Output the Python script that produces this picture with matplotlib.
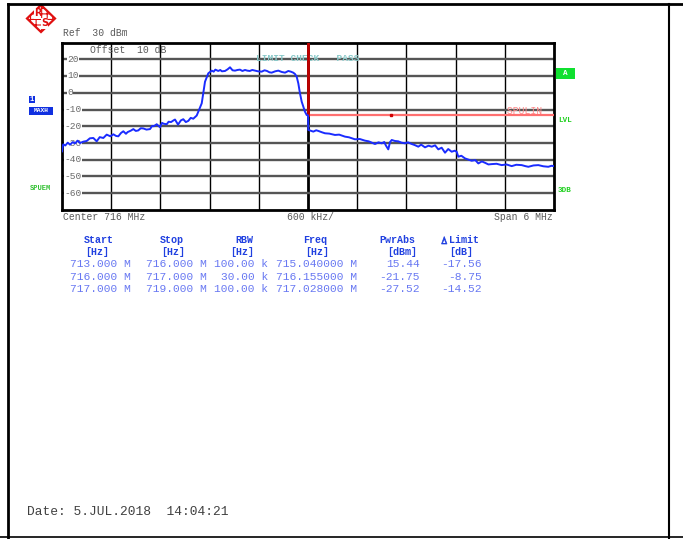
import matplotlib
matplotlib.use("Agg")
import matplotlib.pyplot as plt
from matplotlib.patches import Polygon, Rectangle

# ---------------- data ----------------
freq_mhz = [713.000, 713.010, 713.016, 713.040, 713.070, 713.098, 713.130, 713.160, 713.190,
            713.220, 713.260, 713.301, 713.340, 713.382, 713.423, 713.460, 713.504, 713.545,
            713.590, 713.626, 713.660, 713.687, 713.720, 713.748, 713.780, 713.800, 713.840,
            713.870, 713.900, 713.930, 713.960, 713.991, 714.030, 714.073, 714.100, 714.120,
            714.155, 714.195, 714.220, 714.240, 714.277, 714.300, 714.330, 714.360, 714.378,
            714.415, 714.450, 714.479, 714.510, 714.540, 714.570, 714.601, 714.643, 714.662,
            714.683, 714.704, 714.723, 714.744, 714.784, 714.826, 714.850, 714.870, 714.906,
            714.930, 714.950, 714.988, 715.020, 715.049, 715.080, 715.110, 715.140, 715.170,
            715.200, 715.232, 715.260, 715.290, 715.320, 715.354, 715.390, 715.435, 715.470,
            715.500, 715.530, 715.557, 715.600, 715.638, 715.680, 715.720, 715.760, 715.790,
            715.820, 715.841, 715.862, 715.882, 715.902, 715.923, 715.943, 715.963, 715.984,
            716.000, 716.004, 716.030, 716.065, 716.100, 716.126, 716.170, 716.207, 716.260,
            716.329, 716.380, 716.451, 716.500, 716.573, 716.630, 716.695, 716.740, 716.780,
            716.817, 716.860, 716.899, 716.930, 716.950, 716.979, 717.000, 717.021, 717.060,
            717.101, 717.140, 717.183, 717.220, 717.265, 717.300, 717.345, 717.380, 717.427,
            717.470, 717.509, 717.550, 717.589, 717.630, 717.671, 717.710, 717.752, 717.790,
            717.813, 717.833, 717.870, 717.915, 717.950, 717.996, 718.040, 718.077, 718.120,
            718.158, 718.200, 718.240, 718.300, 718.362, 718.420, 718.484, 718.540, 718.606,
            718.650, 718.687, 718.750, 718.809, 718.870, 718.930, 718.970, 719.000]
level_dbm = [-35.0, -31.5, -30.8, -31.5, -29.8, -31.0, -29.5, -30.2, -28.6,
             -30.0, -29.2, -28.8, -27.2, -27.0, -29.0, -26.5, -27.0, -25.0,
             -26.0, -24.8, -25.8, -26.0, -24.0, -23.0, -24.5, -23.5, -22.6,
             -21.7, -22.8, -22.5, -21.2, -21.3, -22.0, -21.7, -19.8, -20.0,
             -18.8, -20.6, -18.0, -18.5, -18.8, -17.3, -17.5, -16.5, -16.0,
             -19.0, -16.5, -15.8, -17.5, -16.8, -15.0, -15.5, -13.6, -11.3,
             -8.9, -6.3, -0.3, 6.6, 11.6, 13.2, 12.6, 13.8, 13.0,
             13.6, 12.8, 13.0, 14.0, 15.2, 13.4, 13.2, 13.6, 13.8,
             13.0, 13.6, 13.2, 13.0, 13.6, 13.2, 12.8, 12.6, 13.4,
             13.0, 12.2, 12.0, 12.8, 13.2, 12.4, 12.0, 13.0, 12.6,
             12.0, 11.2, 9.6, 5.6, -0.3, -5.3, -8.3, -11.3, -13.3,
             -13.5, -22.2, -22.6, -23.2, -22.4, -22.8, -23.6, -24.2, -24.4,
             -25.2, -25.0, -26.2, -26.6, -27.8, -27.6, -28.6, -29.0, -29.8,
             -30.6, -29.6, -30.2, -29.4, -31.5, -33.8, -29.5, -28.2, -28.8,
             -29.0, -29.8, -30.2, -29.6, -30.6, -31.2, -32.2, -31.0, -32.6,
             -31.6, -32.2, -31.4, -33.8, -32.8, -35.8, -33.6, -35.2, -34.6,
             -35.2, -38.2, -37.6, -39.2, -39.8, -40.6, -40.2, -42.2, -41.0,
             -41.8, -42.8, -42.6, -42.4, -43.2, -42.8, -43.8, -43.0, -43.2,
             -43.8, -44.2, -43.4, -43.2, -43.9, -44.2, -43.6, -43.8]

y_tick_values = [20, 10, 0, -10, -20, -30, -40, -50, -60]
limit_freq = [716.0, 716.0, 719.0]
limit_level = [30.0, -13.0, -13.0]

tbl_start = ["713.000 M", "716.000 M", "717.000 M"]
tbl_stop = ["716.000 M", "717.000 M", "719.000 M"]
tbl_rbw = ["100.00 k", "30.00 k", "100.00 k"]
tbl_freq = ["715.040000 M", "716.155000 M", "717.028000 M"]
tbl_pwr = ["15.44", "-21.75", "-27.52"]
tbl_lim = ["-17.56", "-8.75", "-14.52"]

# ---------------- figure ----------------
W, H = 683, 539
fig = plt.figure(figsize=(W / 100, H / 100), dpi=100)
fig.patch.set_facecolor("white")

ov = fig.add_axes([0, 0, 1, 1])
ov.set_xlim(0, W)
ov.set_ylim(H, 0)
ov.axis("off")

MONO = "Liberation Mono"
GRAY = "#5a5a5a"

# outer frame
ov.plot([8, 8], [4, 539], color="black", lw=2)
ov.plot([8, 683], [4, 4], color="black", lw=2)
ov.plot([669, 669], [4, 539], color="black", lw=1.5)
ov.plot([0, 683], [537, 537], color="black", lw=1.2)

# R&S logo
plt.rcParams["hatch.linewidth"] = 0.8
diamond = Polygon([[41, 5], [55, 18.5], [41, 32], [27, 18.5]], closed=True,
                  facecolor="white", edgecolor="#e01010", lw=1.6, hatch="+++")
ov.add_patch(diamond)
ov.text(37.5, 13.5, "R", color="#e01010", fontsize=7, fontweight="bold",
        ha="center", va="center", family="DejaVu Sans",
        bbox=dict(facecolor="white", edgecolor="none", pad=0.1))
ov.text(44.5, 23.5, "S", color="#e01010", fontsize=7, fontweight="bold",
        ha="center", va="center", family="DejaVu Sans",
        bbox=dict(facecolor="white", edgecolor="none", pad=0.1))

ov.text(63, 33.5, "Ref  30 dBm", fontsize=7, family=MONO, color=GRAY, va="center")

# left / right annotations
ov.add_patch(Rectangle((29, 96), 6, 7, facecolor="#1030e0", edgecolor="none"))
ov.text(32, 99.5, "1", color="white", fontsize=5, ha="center", va="center",
        family=MONO, fontweight="bold")
ov.add_patch(Rectangle((29, 107), 24, 8, facecolor="#1030e0", edgecolor="none"))
ov.text(41, 111, "MAXH", color="white", fontsize=4.5, ha="center", va="center",
        family=MONO, fontweight="bold")
ov.text(30, 188, "SPUEM", color="#30c030", fontsize=5, va="center",
        family=MONO, fontweight="bold")

ov.add_patch(Rectangle((556, 68), 19, 10.5, facecolor="#10e030", edgecolor="none"))
ov.text(565.5, 73.3, "A", color="white", fontsize=5.5, ha="center", va="center",
        family=MONO, fontweight="bold")
ov.text(558, 121, "LVL", color="#20d020", fontsize=5.5, va="center",
        family=MONO, fontweight="bold")
ov.text(558, 190, "3DB", color="#20d020", fontsize=5.5, va="center",
        family=MONO, fontweight="bold")

# bottom scale texts
ov.text(63, 217, "Center 716 MHz", fontsize=7, family=MONO, color=GRAY, va="center")
ov.text(287, 217, "600 kHz/", fontsize=7, family=MONO, color=GRAY, va="center")
ov.text(553, 217, "Span 6 MHz", fontsize=7, family=MONO, color=GRAY, va="center", ha="right")

# table
HDR = "#2040e0"
DAT = "#6878f2"
hdr_kw = dict(fontsize=7.2, family=MONO, color=HDR, fontweight="bold", va="center")
ov.text(84, 240, "Start", **hdr_kw)
ov.text(160, 240, "Stop", **hdr_kw)
ov.text(235, 240, "RBW", **hdr_kw)
ov.text(303, 240, "Freq", **hdr_kw)
ov.text(379, 240, "PwrAbs", **hdr_kw)
ov.text(449, 240, "Limit", **hdr_kw)
ov.add_patch(Polygon([[441.5, 244], [447, 244], [444.25, 236.5]], closed=True,
                     facecolor=HDR, edgecolor=HDR, lw=0.5))
ov.add_patch(Polygon([[443.0, 243], [445.5, 243], [444.25, 240]], closed=True,
                     facecolor="white", edgecolor="none"))
ov.text(85, 252.3, "[Hz]", **hdr_kw)
ov.text(161, 252.3, "[Hz]", **hdr_kw)
ov.text(230, 252.3, "[Hz]", **hdr_kw)
ov.text(305, 252.3, "[Hz]", **hdr_kw)
ov.text(387, 252.3, "[dBm]", **hdr_kw)
ov.text(449, 252.3, "[dB]", **hdr_kw)

dat_kw = dict(fontsize=8.1, family=MONO, color=DAT, va="center")
row_y = [264, 276.5, 288.5]
for i, y in enumerate(row_y):
    ov.text(70.5, y, tbl_start[i], ha="left", **dat_kw)
    ov.text(146.5, y, tbl_stop[i], ha="left", **dat_kw)
    ov.text(268, y, tbl_rbw[i], ha="right", **dat_kw)
    ov.text(276.5, y, tbl_freq[i], ha="left", **dat_kw)
    ov.text(419.5, y, tbl_pwr[i], ha="right", **dat_kw)
    ov.text(482, y, tbl_lim[i], ha="right", **dat_kw)

ov.text(27, 512, "Date: 5.JUL.2018  14:04:21", fontsize=9.3, family=MONO,
        color="#404040", va="center")

# ---------------- plot area ----------------
L, R, T, B = 62, 554, 42.5, 210
ax = fig.add_axes([L / W, 1 - B / H, (R - L) / W, (B - T) / H])
ax.set_xlim(713, 719)
ax.set_ylim(-70, 30)
ax.set_xticks([])
ax.set_yticks([])
for s in ax.spines.values():
    s.set_linewidth(2)
    s.set_color("black")

for k in range(1, 10):
    fx = 713 + 0.6 * k
    ax.axvline(fx, color="black", lw=2 if k == 5 else 1, zorder=1)
for v in y_tick_values:
    ax.axhline(v, color="#555555", lw=1.7, zorder=1)
    ax.text(713.06 if v >= 0 else 713.03, v, f"{v}", fontsize=6.8, family=MONO,
            color="#6a6a6a", va="center", ha="left", zorder=2,
            bbox=dict(facecolor="white", edgecolor="none", pad=0.3))

ax.text(713.34, 25.5, "Offset  10 dB", fontsize=7, family=MONO, color=GRAY, va="center")
ax.text(715.36, 20.3, "LIMIT CHECK   PASS", fontsize=6.8, family=MONO,
        color="#88c8c8", va="center", fontweight="bold", zorder=3)
ax.text(718.93, -10.5, "_SPULIN_", fontsize=7, family=MONO, color="#ff8a8a",
        va="center", ha="right", zorder=3)

# limit line
ax.plot(limit_freq[1:], limit_level[1:], color="#ff7070", lw=1.6, zorder=3)
ax.plot(limit_freq[:2], limit_level[:2], color="#c00000", lw=2, zorder=3)
ax.plot([717.009], [-13.0], marker="s", ms=1.5, color="#d00000", zorder=4)

# trace
ax.plot(freq_mhz, level_dbm, color="#1a2cff", lw=1.4, zorder=5)

fig.savefig("out.png", dpi=100, facecolor="white")
